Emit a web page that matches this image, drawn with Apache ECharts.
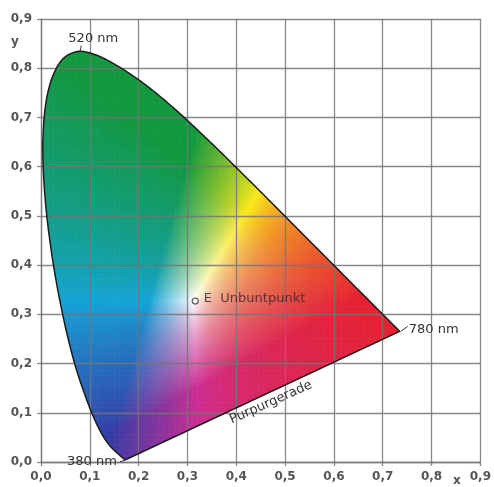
<!DOCTYPE html>
<html>
<head>
<meta charset="utf-8">
<script src="https://cdn.jsdelivr.net/npm/echarts@6/dist/echarts.min.js"></script>
<style>
html,body{margin:0;padding:0;background:#fff;}
#chart{width:494px;height:487px;}
</style>
</head>
<body>
<div id="chart"></div>
<script>
// ---- DATA ----
const wavelengths = [380,385,390,395,400,405,410,415,420,425,430,435,440,445,450,455,460,465,470,475,480,485,490,495,500,505,510,515,520,525,530,535,540,545,550,555,560,565,570,575,580,585,590,595,600,605,610,615,620,625,630,635,640,645,650,660,680,700,780];
const locusX = [0.1741,0.1740,0.1738,0.1736,0.1733,0.1730,0.1726,0.1721,0.1714,0.1703,0.1689,0.1669,0.1644,0.1611,0.1566,0.1510,0.1440,0.1355,0.1241,0.1096,0.0913,0.0687,0.0454,0.0235,0.0082,0.0039,0.0139,0.0389,0.0743,0.1142,0.1547,0.1929,0.2296,0.2658,0.3016,0.3373,0.3731,0.4087,0.4441,0.4788,0.5125,0.5448,0.5752,0.6029,0.6270,0.6482,0.6658,0.6801,0.6915,0.7006,0.7079,0.7140,0.7190,0.7230,0.7260,0.7300,0.7347,0.7347,0.7347];
const locusY = [0.0050,0.0050,0.0049,0.0049,0.0048,0.0048,0.0048,0.0048,0.0051,0.0058,0.0069,0.0086,0.0109,0.0138,0.0177,0.0227,0.0297,0.0399,0.0578,0.0868,0.1327,0.2007,0.2950,0.4127,0.5384,0.6548,0.7502,0.8120,0.8338,0.8262,0.8059,0.7816,0.7543,0.7243,0.6923,0.6589,0.6245,0.5896,0.5547,0.5202,0.4866,0.4544,0.4242,0.3965,0.3725,0.3514,0.3340,0.3197,0.3083,0.2993,0.2920,0.2859,0.2809,0.2770,0.2740,0.2700,0.2653,0.2653,0.2653];
const labelTexts = ['520 nm','380 nm','780 nm','Purpurgerade'];
const labelX = [0.0743,0.1741,0.7347,0.471];
const labelY = [0.8338,0.0050,0.2653,0.121];
const whitePointName = 'E  Unbuntpunkt';
const whitePoint = [0.316,0.327];
const xTickLabels = ['0,0','0,1','0,2','0,3','0,4','0,5','0,6','0,7','0,8','0,9'];
const yTickLabels = ['0,0','0,1','0,2','0,3','0,4','0,5','0,6','0,7','0,8','0,9'];

// ---- colour fill (style): chromaticity -> print-like colour ----
const GAMMA = 1/1.25;
const corner = {
  K:[0,0,0], R:[228,34,50], G:[18,152,62], B:[54,60,166],
  Y:[250,232,28], C:[22,164,214], M:[206,46,148], W:[255,255,255]
};
function tri(r,g,b){
  const out=[0,0,0];
  const w = {
    K:(1-r)*(1-g)*(1-b), R:r*(1-g)*(1-b), G:(1-r)*g*(1-b), B:(1-r)*(1-g)*b,
    Y:r*g*(1-b), C:(1-r)*g*b, M:r*(1-g)*b, W:r*g*b
  };
  for(const k in w){ for(let i=0;i<3;i++) out[i]+=w[k]*corner[k][i]; }
  return 'rgb('+out.map(v=>Math.round(v)).join(',')+')';
}
function xyColor(x,y){
  const X=x/y, Y=1, Z=(1-x-y)/y;
  let r= 3.2406*X-1.5372*Y-0.4986*Z;
  let g=-0.9689*X+1.8758*Y+0.0415*Z;
  let b= 0.0557*X-0.2040*Y+1.0570*Z;
  r=Math.max(r,0); g=Math.max(g,0); b=Math.max(b,0);
  const m=Math.max(r,g,b)||1;
  return tri(Math.pow(r/m,GAMMA),Math.pow(g/m,GAMMA),Math.pow(b/m,GAMMA));
}

// ---- smooth outline geometry (Catmull-Rom through the locus points) ----
const raw = [];
locusX.forEach((x,i)=>{
  const p=[x,locusY[i]];
  const last=raw[raw.length-1];
  if(!last || Math.hypot(p[0]-last[0],p[1]-last[1])>1e-7) raw.push(p);
});
function cr(p0,p1,p2,p3,t){
  const t2=t*t,t3=t2*t;
  return [0,1].map(k=>{
    const v0=(p2[k]-p0[k])*0.5, v1=(p3[k]-p1[k])*0.5;
    return (2*(p1[k]-p2[k])+v0+v1)*t3+(-3*(p1[k]-p2[k])-2*v0-v1)*t2+v0*t+p1[k];
  });
}
const curve=[raw[0]];
for(let i=0;i<raw.length-1;i++){
  const p0=raw[Math.max(i-1,0)],p1=raw[i],p2=raw[i+1],p3=raw[Math.min(i+2,raw.length-1)];
  const n=Math.max(1,Math.ceil(Math.hypot(p2[0]-p1[0],p2[1]-p1[1])/0.005));
  for(let s=1;s<=n;s++) curve.push(cr(p0,p1,p2,p3,s/n));
}
const region = curve.slice(); // closed by the straight purple line

// convex hull of the region for clipping the colour cells
function hull(points){
  const P=points.slice().sort((a,b)=>a[0]-b[0]||a[1]-b[1]);
  const crs=(o,a,b)=>(a[0]-o[0])*(b[1]-o[1])-(a[1]-o[1])*(b[0]-o[0]);
  const lower=[];for(const p of P){while(lower.length>=2&&crs(lower[lower.length-2],lower[lower.length-1],p)<=0)lower.pop();lower.push(p);}
  const upper=[];for(let i=P.length-1;i>=0;i--){const p=P[i];while(upper.length>=2&&crs(upper[upper.length-2],upper[upper.length-1],p)<=0)upper.pop();upper.push(p);}
  upper.pop();lower.pop();
  return lower.concat(upper); // counter-clockwise
}
const clipHull = hull(region);
function clip(subject){
  let out=subject;
  const n=clipHull.length;
  for(let i=0;i<n && out.length;i++){
    const a=clipHull[i],b=clipHull[(i+1)%n];
    const dx=b[0]-a[0],dy=b[1]-a[1];
    const inp=out; out=[];
    const sides=inp.map(p=>dx*(p[1]-a[1])-dy*(p[0]-a[0]));
    for(let k=0;k<inp.length;k++){
      const P=inp[k],Q=inp[(k+1)%inp.length],sp=sides[k],sq=sides[(k+1)%inp.length];
      if(sp>=0){
        out.push(P);
        if(sq<0){const t=sp/(sp-sq);out.push([P[0]+t*(Q[0]-P[0]),P[1]+t*(Q[1]-P[1])]);}
      } else if(sq>=0){
        const t=sp/(sp-sq);out.push([P[0]+t*(Q[0]-P[0]),P[1]+t*(Q[1]-P[1])]);
      }
    }
  }
  return out;
}
const xs=region.map(p=>p[0]), ys=region.map(p=>p[1]);
const minX=Math.min(...xs),maxX=Math.max(...xs),minY=Math.min(...ys),maxY=Math.max(...ys);
const CELL=0.005, EPS=0.0012;
const mesh=[];
for(let x0=Math.floor(minX/CELL)*CELL;x0<maxX;x0+=CELL){
  for(let y0=Math.floor(minY/CELL)*CELL;y0<maxY;y0+=CELL){
    const poly=clip([[x0,y0],[x0+CELL+EPS,y0],[x0+CELL+EPS,y0+CELL+EPS],[x0,y0+CELL+EPS]]);
    if(poly.length<3) continue;
    let cx=0,cy=0;poly.forEach(p=>{cx+=p[0];cy+=p[1];});cx/=poly.length;cy/=poly.length;
    mesh.push({pts:poly,center:[cx,cy],color:xyColor(cx,cy)});
  }
}

const FONT = 'DejaVu Sans';
const gridColor = 'rgba(118,118,118,0.85)';
const chart = echarts.init(document.getElementById('chart'), null, {renderer:'canvas'});

const leaderOffsets = [[[3,-1],[4,-6]], [[-1,1],[-6,2]], [[1,0],[8,-5]], null];
const labelOffsets = [[16,-13],[-34,2],[34,-2],[0,0]];

chart.setOption({
  animation:false,
  backgroundColor:'#fff',
  grid:{left:41,right:12,top:19,bottom:25,containLabel:false},
  xAxis:{
    type:'value', min:0, max:0.9, interval:0.1, z:3,
    axisLine:{show:true,onZero:false,lineStyle:{color:gridColor,width:1.3}},
    axisTick:{show:true,length:4,lineStyle:{color:gridColor,width:1.3}},
    splitLine:{show:true,lineStyle:{color:gridColor,width:1.3}},
    axisLabel:{margin:9,color:'#555',fontFamily:FONT,fontSize:12,fontWeight:'bold',
      formatter:(v)=>xTickLabels[Math.round(v*10)]}
  },
  yAxis:{
    type:'value', min:0, max:0.9, interval:0.1, z:3,
    axisLine:{show:true,onZero:false,lineStyle:{color:gridColor,width:1.3}},
    axisTick:{show:true,length:4,lineStyle:{color:gridColor,width:1.3}},
    splitLine:{show:true,lineStyle:{color:gridColor,width:1.3}},
    axisLabel:{margin:9,color:'#555',fontFamily:FONT,fontSize:12,fontWeight:'bold',
      formatter:(v)=>yTickLabels[Math.round(v*10)]}
  },
  graphic:[
    {type:'text',left:11,top:36,z:10,style:{text:'y',font:'bold 12px "DejaVu Sans"',fill:'#555'}},
    {type:'text',left:453,top:475,z:10,style:{text:'x',font:'bold 12px "DejaVu Sans"',fill:'#555'}}
  ],
  series:[
    {
      type:'custom', z:1, silent:true, progressive:0, progressiveThreshold:1e9,
      data: mesh.map(q=>q.center),
      renderItem:(params,api)=>{
        const q=mesh[params.dataIndex];
        return {type:'polygon',shape:{points:q.pts.map(p=>api.coord(p))},style:{fill:q.color}};
      }
    },
    {
      type:'custom', z:5, silent:true,
      data:[[locusX[0],locusY[0]]],
      renderItem:(params,api)=>({
        type:'polygon',
        shape:{points:region.map(p=>api.coord(p))},
        style:{fill:'none',stroke:'#1c1c1c',lineWidth:1.5,lineJoin:'round'}
      })
    },
    {
      type:'custom', z:6, silent:true,
      data: labelTexts.map((t,i)=>[labelX[i],labelY[i]]),
      renderItem:(params,api)=>{
        const i=params.dataIndex;
        const p=api.coord([api.value(0),api.value(1)]);
        const children=[];
        const lo=leaderOffsets[i];
        if(lo){
          children.push({type:'line',shape:{x1:p[0]+lo[0][0],y1:p[1]+lo[0][1],x2:p[0]+lo[1][0],y2:p[1]+lo[1][1]},
            style:{stroke:'#333',lineWidth:1}});
        }
        const off=labelOffsets[i];
        children.push({type:'text',x:p[0]+off[0],y:p[1]+off[1],rotation:i===3?24*Math.PI/180:0,
          style:{text:labelTexts[i],font:'13px "DejaVu Sans"',fill:'#333',align:'center',verticalAlign:'middle'}});
        return {type:'group',children};
      }
    },
    {
      type:'scatter', z:7, silent:true,
      data:[whitePoint],
      symbol:'circle', symbolSize:6,
      itemStyle:{color:'rgba(255,255,255,0.4)',borderColor:'#333',borderWidth:1.2},
      label:{show:true,position:'right',distance:5,offset:[0,-2],formatter:whitePointName,
        fontFamily:FONT,fontSize:13,color:'#3a2232'}
    }
  ]
});
</script>
</body>
</html>
